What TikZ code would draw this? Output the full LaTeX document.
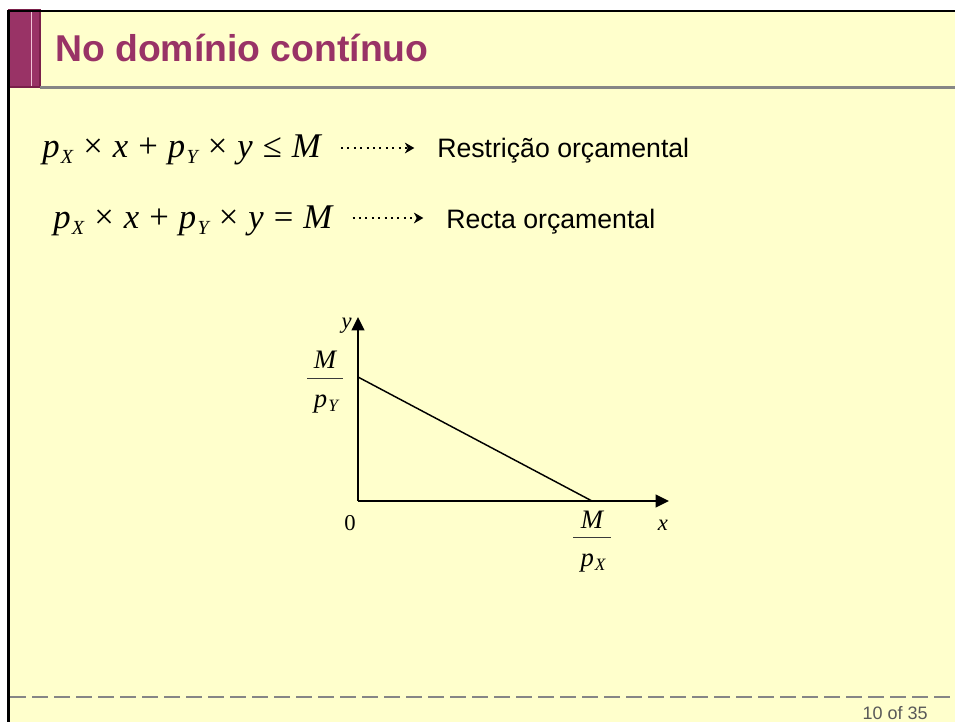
\documentclass[tikz,border=0pt]{standalone}
\usepackage{fontspec}
\setmainfont{Liberation Sans}
\newfontfamily\tms{Liberation Serif}
\usetikzlibrary{positioning,arrows.meta}
\definecolor{slidebg}{HTML}{FFFFCC}
\definecolor{plum}{HTML}{993366}
\definecolor{plumdark}{HTML}{7A1F4A}
\definecolor{plumline}{HTML}{F2C6D6}
\definecolor{rulegray}{HTML}{868686}
\definecolor{pagegray}{HTML}{595959}
\definecolor{barink}{HTML}{3A3A3A}
% lowered subscript and wide gap, as in the slide's equations
\newcommand\sbx[2][15]{\hspace{0.04em}\raisebox{-0.18em}{\fontsize{#1}{#1}\selectfont #2}}
\newcommand\gp{\hspace{0.29em}}
\tikzset{
  eqn/.style   = {anchor=base west, inner sep=0pt, font=\tms\itshape\fontsize{26}{30}\selectfont},
  lbl/.style   = {anchor=base west, inner sep=0pt, font=\fontsize{20}{24}\selectfont},
  lead/.style  = {-{Stealth[length=7pt,width=8pt,inset=2pt]}, line width=1.8pt,
                  dash pattern=on 1.5pt off 3.3pt, shorten <=15pt, shorten >=17pt},
  axis/.style  = {-{Triangle[length=10pt,width=9.5pt]}, line width=1.5pt},
  gr/.style    = {inner sep=0pt, font=\tms\itshape\fontsize{17}{20}\selectfont},
  frc/.style   = {anchor=base, inner sep=0pt, font=\tms\itshape\fontsize{20}{24}\selectfont},
  fracbar/.style = {draw=barink, line width=0.75pt},
}
\begin{document}
\begin{tikzpicture}[x=0.75pt,y=-0.75pt]
  \useasboundingbox (0,0) rectangle (955,722);
  % slide frame and title band
  \fill[white] (0,0) rectangle (955,722);
  \fill[slidebg] (8,10) rectangle (955,722);
  \fill[plum,draw=plumdark,line width=0.8pt] (9,9.5) rectangle (40,87);
  \draw[plumline,line width=0.8pt] (31.5,12) -- (31.5,86);
  \draw[rulegray,line width=1.6pt] (40,87.5) -- (955,87.5);
  \draw[black,line width=2pt] (7,11) -- (955,11);
  \draw[black,line width=2pt] (8.3,10) -- (8.3,722);
  \node[anchor=base west,inner sep=0pt,text=plum,font=\bfseries\fontsize{28}{32}\selectfont]
    (title) at (55,61) {No domínio contínuo};
  % constraint and line
  \node[eqn] (eqa) at (42,157)
    {p\sbx{X}\gp{\upshape ×}\gp x\gp{\upshape +}\gp p\sbx{Y}\gp{\upshape ×}\gp y\gp{\upshape ≤}\gp M};
  \node[eqn] (eqb) at (53,228)
    {p\sbx{X}\gp{\upshape ×}\gp x\gp{\upshape +}\gp p\sbx{Y}\gp{\upshape ×}\gp y\gp{\upshape =}\gp M};
  \node[lbl] (resa) at (437,157) {Restrição orçamental};
  \node[lbl] (resb) at (446,228) {Recta orçamental};
  \draw[lead] (eqa.east |- 0,148) -- (resa.west |- 0,148);
  \draw[lead] (eqb.east |- 0,218) -- (resb.west |- 0,218);
  % budget line graph
  \coordinate (O) at (358,501);
  \coordinate (ytip) at (358,317);
  \coordinate (xtip) at (669,501);
  \coordinate (A) at (358,377);
  \coordinate (B) at (592,501);
  \draw[axis] (O) -- (ytip);
  \draw[axis] (O) -- (xtip);
  \draw[line width=1.1pt] (A) -- (B);
  \node[gr,anchor=base east] (ylab) at (352,328) {y};
  \node[gr,anchor=base] (zero) at (350,530) {\upshape 0};
  \node[gr,anchor=base] (xlab) at (663,530) {x};
  \node[frc] (fyn) at (325,368) {M};
  \draw[fracbar] (307,378) -- (343,378);
  \node[frc] (fyd) at (326,407) {p\sbx[13]{Y}};
  \node[frc] (fxn) at (592,528) {M};
  \draw[fracbar] (573,537) -- (611,537);
  \node[frc] (fxd) at (593,566) {p\sbx[13]{X}};
  % footer
  \draw[rulegray,line width=1.5pt,dash pattern=on 12pt off 4.5pt] (10,697) -- (955,697);
  \node[anchor=base east,inner sep=0pt,text=pagegray,font=\fontsize{13.5}{16}\selectfont]
    (page) at (928,719) {10 of 35};
\end{tikzpicture}
\end{document}
